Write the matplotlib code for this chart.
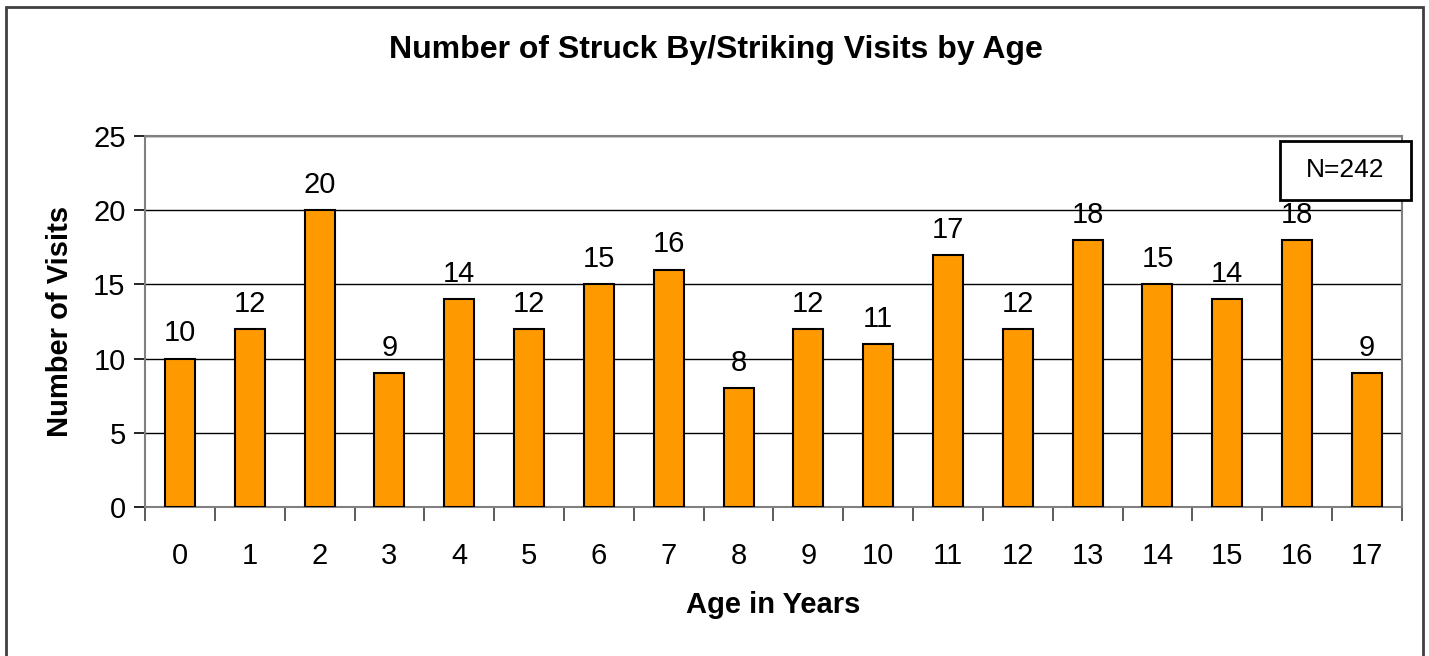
import matplotlib.pyplot as plt
from matplotlib.patches import Rectangle
import numpy as np

plt.rcParams['font.family'] = ['Liberation Sans', 'DejaVu Sans']

ages = [str(a) for a in range(18)]
visits = [10, 12, 20, 9, 14, 12, 15, 16, 8, 12, 11, 17, 12, 18, 15, 14, 18, 9]
y_ticks = [0, 5, 10, 15, 20, 25]

fig = plt.figure(figsize=(14.29, 6.56), dpi=100)
ax = fig.add_axes([0.1015, 0.2271, 0.8795, 0.5656])

x = np.arange(len(ages))
ax.bar(x, visits, width=0.43, color='#FF9900', edgecolor='black', linewidth=1.5, zorder=3)

for xi, v in zip(x, visits):
    ax.annotate(str(v), (xi, v), xytext=(0, 8), textcoords='offset points',
                ha='center', va='bottom', fontsize=21, zorder=4)

ax.set_xlim(-0.5, len(ages) - 0.5)
ax.set_ylim(0, 25)
ax.set_yticks(y_ticks)
ax.set_xticks(x)
ax.set_xticklabels(ages)
ax.set_xticks(np.arange(-0.5, len(ages)), minor=True)
ax.tick_params(axis='x', which='major', length=0, pad=25, labelsize=21)
ax.tick_params(axis='x', which='minor', length=10, width=1.2, color='#404040', direction='out')
ax.tick_params(axis='y', length=8, width=1.2, labelsize=21, pad=6)

ax.yaxis.grid(True, color='black', linewidth=1.0, zorder=0)
for side in ['left', 'bottom', 'top', 'right']:
    ax.spines[side].set_color('#808080')
    ax.spines[side].set_linewidth(1.5)

# title is centred on the whole chart area, not the plot area
fig.text(0.501, 0.924, 'Number of Struck By/Striking Visits by Age', fontsize=23,
         fontweight='bold', ha='center', va='center')
ax.set_xlabel('Age in Years', fontsize=21, fontweight='bold', labelpad=15)
ax.set_ylabel('Number of Visits', fontsize=21, fontweight='bold', labelpad=14)

# N box
ax.add_patch(Rectangle((0.903, 0.8275), 0.104, 0.159, transform=ax.transAxes,
                       facecolor='white', edgecolor='black', linewidth=2,
                       clip_on=False, zorder=5))
ax.text(0.955, 0.907, 'N=242', transform=ax.transAxes, ha='center', va='center',
        fontsize=19, zorder=6)

fig.patches.append(Rectangle((6 / 1429, -0.02), 1417 / 1429, 1.0093, transform=fig.transFigure,
                             fill=False, edgecolor='#404040', linewidth=2))

fig.savefig('out.png', dpi=100)
